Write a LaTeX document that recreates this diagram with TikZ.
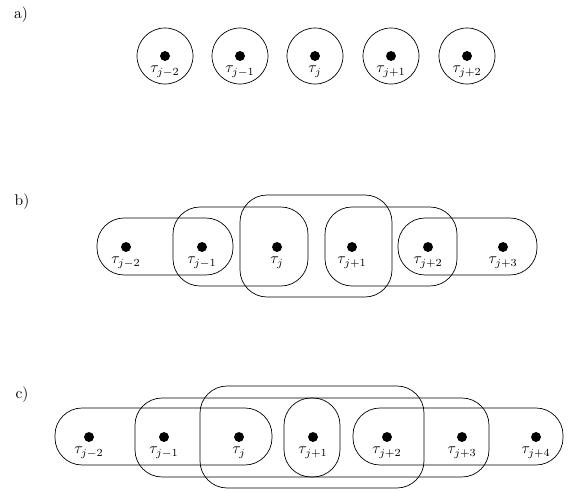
\documentclass[tikz,border=0pt]{standalone}
\usetikzlibrary{positioning}
\begin{document}
\begin{tikzpicture}[x=0.645pt,y=-0.645pt,
  dot/.style={circle,fill=black,inner sep=0pt,minimum size=6.4pt},
  lab/.style={inner sep=1pt},
  ring/.style={draw,line width=0.45pt},
  blob/.style={draw,line width=0.45pt,rounded corners=17.5pt},
  tag/.style={inner sep=0pt}]
\useasboundingbox (0,0) rectangle (570,493);
% part labels
\node[tag] (la) at (21,15) {a)};
\node[tag] (lb) at (22,202) {b)};
\node[tag] (lc) at (22,395) {c)};
% ---------- a)
\foreach \i/\x/\s in {1/165/{j-2},2/240/{j-1},3/315/{j},4/391/{j+1},5/467/{j+2}}{
  \node[dot] (a\i) at (\x,56) {};
  \node[lab,below=2pt of a\i] (ta\i) {$\tau_{\s}$};
  \draw[ring] (a\i) circle[radius=28];
}
% ---------- b)
\foreach \i/\x/\s in {1/126/{j-2},2/202/{j-1},3/277/{j},4/352/{j+1},5/428/{j+2},6/503/{j+3}}{
  \node[dot] (b\i) at (\x,247) {};
  \node[lab,below=2pt of b\i] (tb\i) {$\tau_{\s}$};
}
\draw[blob] (97,218) rectangle (233,275);
\draw[blob] (173,207) rectangle (308,286);
\draw[blob] (240,195) rectangle (392,297);
\draw[blob] (325,207) rectangle (457,286);
\draw[blob] (398,218) rectangle (537,275);
% ---------- c)
\foreach \i/\x/\s in {1/89/{j-2},2/164/{j-1},3/239/{j},4/313/{j+1},5/387/{j+2},6/462/{j+3},7/536/{j+4}}{
  \node[dot] (c\i) at (\x,437) {};
  \node[lab,below=2pt of c\i] (tc\i) {$\tau_{\s}$};
}
\draw[blob] (55,408) rectangle (272,465);
\draw[blob] (135,398) rectangle (489,477);
\draw[blob] (200,386) rectangle (424,488);
\draw[blob] (284,398) rectangle (340,477);
\draw[blob] (353,408) rectangle (563,465);
\end{tikzpicture}
\end{document}
